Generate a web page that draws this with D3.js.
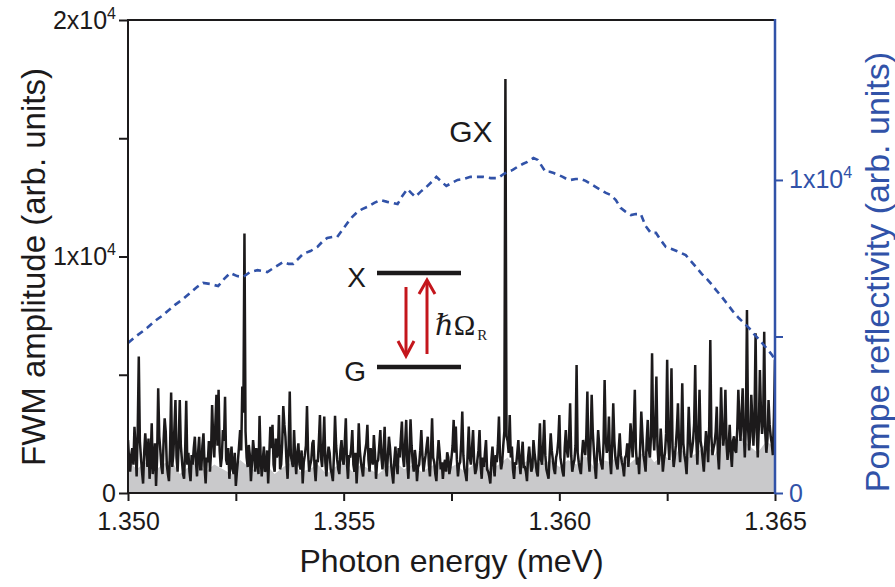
<!DOCTYPE html>
<html><head><meta charset="utf-8">
<script src="https://cdn.jsdelivr.net/npm/d3@7"></script>
<style>body{margin:0;background:#fff}svg{display:block}</style>
</head><body><svg id="c" width="895" height="587"></svg>
<script>
// ---- data ----
const energyStart = 1.350;
const energyStep = 0.000025;
const fwmAmplitude = [
2240,1400,900,1600,1900,1200,2800,1900,700,2600,5770,2200,1500,900,400,1700,2520,1800,1100,2300,600,1400,2950,800,1300,2100,300,1500,4430,2400,1800,1100,800,2200,3160,2600,1200,800,500,1900,
4250,1100,1600,2700,3930,1500,900,2100,3930,2000,1400,800,600,1800,3900,1200,1700,900,500,1600,1200,1900,2380,1300,700,1700,2380,1000,1000,2000,2520,1100,400,1500,1300,2200,900,1700,3720,2300,
1500,2900,4150,2000,4360,1800,1100,1500,2660,2200,4070,1400,1200,1900,600,1300,1960,1000,800,1700,300,900,1400,2000,2660,1800,4500,3400,10970,2600,1500,1100,2030,1600,500,1300,2240,1700,900,1900,
1300,800,3260,1500,700,1400,1960,900,1000,1800,400,1600,2800,1900,2880,1200,900,2300,1500,1700,3300,1000,1200,2100,3680,2900,2380,1300,600,2000,4290,1600,1300,1100,2660,1500,800,1700,2100,1200,
1000,1800,400,1300,1600,2000,3680,1700,900,1200,1400,2100,2240,1100,500,1400,1300,2200,3300,1500,1100,2000,3230,1300,700,1500,1960,1700,1000,800,500,1600,3260,2000,1400,1000,800,1800,2240,1400,
1200,2100,3160,1300,600,1600,1500,1900,2660,1200,900,1700,400,1300,2950,1800,1300,1000,700,1500,1800,2100,2880,1400,900,1900,1500,1200,2450,1700,600,1300,1400,2000,2660,1500,1000,1800,2800,1100,
700,1600,2380,1900,1200,800,400,1400,1960,1200,800,1900,1500,2300,3020,1500,1100,2100,3090,1300,600,1700,3120,2000,1300,900,1820,1400,500,1100,1200,1800,2660,1600,900,1300,1600,2000,2380,1200,
700,1800,3160,1500,1300,800,500,1500,2240,1700,1000,1300,600,1200,1400,900,1720,1500,800,1100,1500,2000,3090,1700,2810,1400,700,1200,1300,2100,3440,1600,1000,800,500,1700,2810,1500,1200,1900,
2660,1300,800,1000,1400,1800,2660,1200,600,1500,1100,1700,2240,1000,900,700,400,1400,1960,1200,700,1600,1300,2000,3230,1500,1000,1300,2000,2600,17500,2400,2200,1700,3300,1500,1960,1000,600,1300,
1200,1700,2240,1300,800,1600,2170,1100,1100,900,500,1500,1960,1400,900,1100,2240,1700,1300,900,700,1800,2950,1400,1200,2000,3090,1600,1000,800,600,1600,2520,1800,1400,1000,800,1500,1700,2200,
3300,1500,1200,900,700,1900,2660,1800,1500,2300,3790,1600,900,1200,1400,2000,5410,1700,1300,1000,800,1600,2240,1900,1600,2400,4290,1500,900,2200,4150,2600,1800,1100,600,1700,2660,2000,1400,1200,
1000,2100,4780,2300,1700,1900,3230,1400,800,2000,3790,2200,1500,1200,1000,1800,2520,1600,1300,1100,700,1500,1600,2100,1100,1800,2950,2300,1500,2700,4360,1900,1200,1500,800,2000,3440,2500,1600,1300,
900,2200,3090,1800,1500,2400,5910,2600,1800,2900,4920,2000,1200,1600,2720,1900,900,1400,1700,2500,5630,2200,1400,2800,5270,1900,1100,1500,2000,2700,3790,2000,1300,2300,4640,2100,1600,1300,800,2000,
3650,2400,1500,1800,2200,2900,5410,2300,1200,2500,4360,2200,1900,1400,900,1800,2620,2100,1300,2800,6470,2400,1600,1900,2100,2600,3650,1700,1000,2300,4470,2800,2000,2500,4360,2100,1400,2000,2880,1700,
1100,2200,2400,1800,1700,2700,4360,3000,2200,3300,4430,2600,1500,2900,7740,2800,1800,2400,4150,3100,2000,3200,6750,2600,1500,2800,5200,3400,2500,3000,6820,2500,1700,2300,3930,2900,2400,2100,1600,3200,
5630];
const backgroundStep = 0.0002;
const fwmBackground = [
1400,1000,1300,900,1200,1400,800,1100,1300,900,1200,1000,800,1400,1100,900,1200,800,1100,1300,
900,1000,1200,800,1100,1300,900,1200,1000,800,1100,1300,1000,1200,900,1100,1300,1000,1200,900,
1200,1400,1000,1200,1500,1100,1300,1500,1200,1400,1100,1400,1200,1600,1100,1400,1300,1700,1200,1500,
1800,1300,1600,1400,1900,1500,1700,2100,1600,2300,1800,2400,2000,1700,2200,1900];
const reflEnergy = [
1.35000,1.35016,1.35044,1.35063,1.35079,1.35109,1.35128,1.35144,1.35160,1.35174,1.35190,1.35209,1.35223,1.35237,1.35253,1.35267,1.35283,1.35300,1.35313,1.35323,
1.35341,1.35360,1.35372,1.35383,1.35406,1.35423,1.35439,1.35450,1.35462,1.35474,1.35485,1.35497,1.35509,1.35520,1.35532,1.35543,1.35555,1.35571,1.35585,1.35601,
1.35613,1.35625,1.35636,1.35648,1.35657,1.35666,1.35678,1.35692,1.35704,1.35715,1.35727,1.35738,1.35750,1.35764,1.35778,1.35794,1.35808,1.35824,1.35841,1.35857,
1.35871,1.35880,1.35892,1.35903,1.35915,1.35926,1.35940,1.35950,1.35959,1.35968,1.35978,1.35987,1.35998,1.36008,1.36017,1.36026,1.36038,1.36050,1.36061,1.36073,
1.36084,1.36096,1.36108,1.36119,1.36131,1.36142,1.36154,1.36166,1.36177,1.36189,1.36200,1.36212,1.36224,1.36235,1.36247,1.36259,1.36272,1.36293,1.36305,1.36317,
1.36330,1.36344,1.36354,1.36363,1.36377,1.36391,1.36402,1.36416,1.36428,1.36440,1.36451,1.36460,1.36472,1.36484,1.36493,1.36500];
const reflValue = [
4790,4980,5270,5500,5660,6010,6200,6390,6580,6710,6680,6610,6840,7030,6930,6900,7060,7120,7090,7060,
7220,7380,7320,7320,7640,7730,7860,8020,8150,8180,8180,8400,8630,8820,8980,9070,9140,9270,9360,9300,
9270,9230,9490,9710,9580,9460,9620,9780,9940,10100,9940,9810,9900,10000,10030,10100,10100,10100,10060,10060,
10190,10260,10320,10420,10510,10580,10700,10640,10450,10260,10260,10220,10160,10100,10030,10000,10030,10030,9970,9870,
9780,9680,9585,9520,9360,9110,8980,8880,8910,8910,8530,8310,8310,8080,7860,7800,7730,7600,7410,7220,
7000,6810,6650,6490,6260,6010,5810,5590,5430,5270,5080,4950,4760,4570,4410,4250];
const xTicks = [1.350, 1.3525, 1.355, 1.3575, 1.360, 1.3625, 1.365];
const xTickLabels = ["1.350", "", "1.355", "", "1.360", "", "1.365"];
const leftTicks = [0, 5000, 10000, 15000, 20000];
const leftTickLabels = [["0"], null, ["1x10", "4"], null, ["2x10", "4"]];
const rightTicks = [0, 5000, 10000];
const rightTickLabels = [["0"], null, ["1x10", "4"]];
const rightMax = 15110;

// ---- layout ----
const L = 128, R = 775, T = 20, B = 493;
const FONT = "'Liberation Sans', Arial, Helvetica, sans-serif";
const BLUE = "#3152a8";
const RED = "#c4161c";
const INK = "#1c1a1b";

const svg = d3.select("#c");
const x = d3.scaleLinear().domain([1.350, 1.365]).range([L, R]);
const yL = d3.scaleLinear().domain([0, 20000]).range([B, T]);
const yR = d3.scaleLinear().domain([0, rightMax]).range([B, T]);

svg.append("defs").append("clipPath").attr("id", "clip")
  .append("rect").attr("x", L).attr("y", T).attr("width", R - L).attr("height", B - T);

const fwmData = fwmAmplitude.map((v, i) => ({e: energyStart + i * energyStep, v}));
const bgData = fwmBackground.map((v, i) => ({e: energyStart + i * backgroundStep, v}));
const reflData = reflEnergy.map((e, i) => ({e, v: reflValue[i]}));

const plot = svg.append("g").attr("clip-path", "url(#clip)");
plot.append("path").datum(bgData)
  .attr("d", d3.area().x(d => x(d.e)).y0(B).y1(d => yL(d.v)))
  .attr("fill", "#c9c9cb");
plot.append("path").datum(fwmData)
  .attr("d", d3.line().x(d => x(d.e)).y(d => yL(d.v)))
  .attr("fill", "none").attr("stroke", INK).attr("stroke-width", 2.5)
  .attr("stroke-linejoin", "miter").attr("stroke-miterlimit", 2);
plot.append("path").datum(reflData)
  .attr("d", d3.line().x(d => x(d.e)).y(d => yR(d.v)))
  .attr("fill", "none").attr("stroke", BLUE).attr("stroke-width", 2.6)
  .attr("stroke-dasharray", "7,5");

// ---- axes ----
function styleAxis(g, color) {
  g.select(".domain").remove();
  g.selectAll(".tick line").attr("stroke", color).attr("stroke-width", 2);
  g.selectAll(".tick text").attr("fill", color).attr("font-family", FONT).attr("font-size", 25);
}
function supLabels(g, labels) {
  g.selectAll(".tick text").each(function(d, i) {
    const t = d3.select(this);
    t.text(null);
    const lab = labels[i];
    if (!lab) return;
    t.append("tspan").text(lab[0]);
    if (lab[1]) t.append("tspan").attr("dy", -10).attr("font-size", 16).text(lab[1]);
  });
}

const gx = svg.append("g").attr("transform", `translate(0,${B})`)
  .call(d3.axisBottom(x).tickValues(xTicks).tickSize(8).tickPadding(11).tickFormat((d, i) => xTickLabels[i]));
styleAxis(gx, INK);

const gl = svg.append("g").attr("transform", `translate(${L},0)`)
  .call(d3.axisLeft(yL).tickValues(leftTicks).tickSize(9).tickPadding(3));
styleAxis(gl, INK);
supLabels(gl, leftTickLabels);

const gr = svg.append("g").attr("transform", `translate(${R},0)`)
  .call(d3.axisRight(yR).tickValues(rightTicks).tickSize(8).tickPadding(6));
styleAxis(gr, BLUE);
supLabels(gr, rightTickLabels);

// frame lines
svg.append("line").attr("x1", L).attr("x2", R).attr("y1", B).attr("y2", B).attr("stroke", INK).attr("stroke-width", 2);
svg.append("line").attr("x1", L).attr("x2", R).attr("y1", T).attr("y2", T).attr("stroke", INK).attr("stroke-width", 2);
svg.append("line").attr("x1", L).attr("x2", L).attr("y1", T - 1).attr("y2", B + 1).attr("stroke", INK).attr("stroke-width", 2);
svg.append("line").attr("x1", R).attr("x2", R).attr("y1", T - 1).attr("y2", B + 1).attr("stroke", BLUE).attr("stroke-width", 2.5);

// axis titles
svg.append("text").attr("x", (L + R) / 2).attr("y", 572).attr("text-anchor", "middle")
  .attr("font-family", FONT).attr("font-size", 32).attr("fill", INK).text("Photon energy (meV)");
svg.append("text").attr("transform", "translate(45,267) rotate(-90)").attr("text-anchor", "middle")
  .attr("font-family", FONT).attr("font-size", 33).attr("fill", INK).text("FWM amplitude (arb. units)");
svg.append("text").attr("transform", "translate(889,272) rotate(-90)").attr("text-anchor", "middle")
  .attr("font-family", FONT).attr("font-size", 34).attr("fill", BLUE).text("Pompe reflectivity (arb. units)");

// GX label
svg.append("text").attr("x", x(1.35873) - 12).attr("y", 142).attr("text-anchor", "end")
  .attr("font-family", FONT).attr("font-size", 30).attr("fill", INK).text("GX");

// ---- inset: two-level scheme ----
const ins = svg.append("g");
ins.append("line").attr("x1", 377).attr("x2", 461).attr("y1", 273).attr("y2", 273).attr("stroke", INK).attr("stroke-width", 4.5);
ins.append("line").attr("x1", 377).attr("x2", 461).attr("y1", 367).attr("y2", 367).attr("stroke", INK).attr("stroke-width", 4.5);
ins.append("text").attr("x", 366).attr("y", 287).attr("text-anchor", "end").attr("font-family", FONT).attr("font-size", 28).attr("fill", INK).text("X");
ins.append("text").attr("x", 366).attr("y", 381).attr("text-anchor", "end").attr("font-family", FONT).attr("font-size", 28).attr("fill", INK).text("G");
ins.append("line").attr("x1", 406).attr("x2", 406).attr("y1", 287).attr("y2", 355).attr("stroke", RED).attr("stroke-width", 3);
ins.append("path").attr("d", "M398,341 L406,356 L414,341").attr("fill", "none").attr("stroke", RED).attr("stroke-width", 3);
ins.append("line").attr("x1", 427).attr("x2", 427).attr("y1", 354).attr("y2", 281).attr("stroke", RED).attr("stroke-width", 3);
ins.append("path").attr("d", "M419,294 L427,280 L435,294").attr("fill", "none").attr("stroke", RED).attr("stroke-width", 3);
const lab = ins.append("text").attr("x", 435).attr("y", 335).attr("font-family", "'Liberation Serif','DejaVu Serif','Times New Roman',serif").attr("font-size", 29).attr("fill", INK);
lab.append("tspan").attr("font-style", "italic").text("ℏ");
lab.append("tspan").text("Ω");
lab.append("tspan").attr("font-size", 15).attr("dy", 5).attr("dx", 2).text("R");
</script>
</body></html>
